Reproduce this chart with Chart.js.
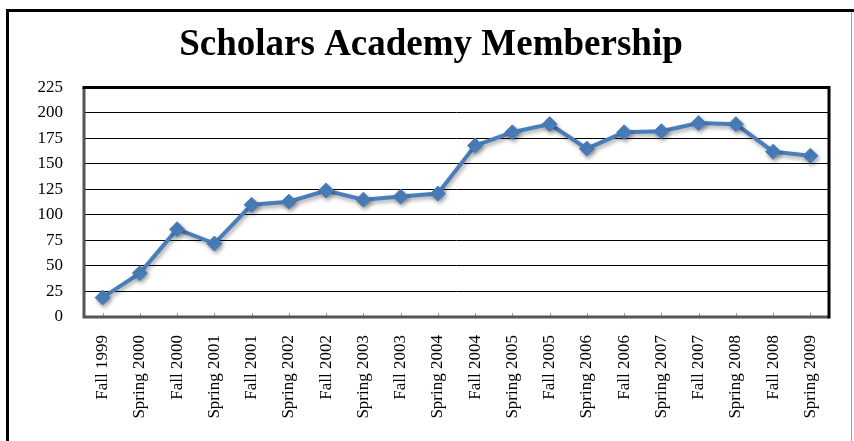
<!DOCTYPE html>
<html>
<head>
<meta charset="utf-8">
<script src="https://cdn.jsdelivr.net/npm/chart.js@4"></script>
<style>
  html, body { margin: 0; padding: 0; background: #fff; overflow: hidden; }
  #wrap { position: relative; width: 854px; height: 441px; }
  #c { position: absolute; left: 0; top: 0; }
  #frame { position: absolute; left: 6px; top: 9px; width: 860px; height: 440px;
           border-top: 3px solid #000; border-left: 3px solid #000; pointer-events: none; }
  #edge { position: absolute; left: 851px; top: 12px; width: 1px; height: 429px; background: #a0a0a0; }
</style>
</head>
<body>
<div id="wrap">
  <canvas id="c" width="854" height="441"></canvas>
  <div id="frame"></div>
  <div id="edge"></div>
</div>
<script>
const categories = [
  "Fall 1999", "Spring 2000", "Fall 2000", "Spring 2001", "Fall 2001",
  "Spring 2002", "Fall 2002", "Spring 2003", "Fall 2003", "Spring 2004",
  "Fall 2004", "Spring 2005", "Fall 2005", "Spring 2006", "Fall 2006",
  "Spring 2007", "Fall 2007", "Spring 2008", "Fall 2008", "Spring 2009"
];
const membership = [
  19, 43, 86, 72, 110,
  113, 124, 115, 118, 121,
  168, 181, 189, 165, 181,
  182, 190, 189, 162, 158
];
const yMin = 0;
const yMax = 225;
const yStep = 25;
const titleText = "Scholars Academy Membership";

const plotDecor = {
  id: 'plotDecor',
  beforeDatasetsDraw(chart) {
    const ctx = chart.ctx;
    const a = chart.chartArea;
    const xs = chart.scales.x;
    ctx.save();
    ctx.strokeStyle = '#9a9a9a';
    ctx.lineWidth = 1;
    xs.ticks.forEach((t, i) => {
      const px = Math.round(xs.getPixelForTick(i)) + 0.5;
      ctx.beginPath();
      ctx.moveTo(px, a.bottom - 4);
      ctx.lineTo(px, a.bottom - 1);
      ctx.stroke();
    });
    ctx.lineWidth = 3;
    ctx.strokeStyle = '#555';
    ctx.beginPath();
    ctx.moveTo(a.left, a.top);
    ctx.lineTo(a.left, a.bottom);
    ctx.lineTo(a.right, a.bottom);
    ctx.stroke();
    ctx.strokeStyle = '#000';
    ctx.beginPath();
    ctx.moveTo(a.left - 1.5, a.top);
    ctx.lineTo(a.right, a.top);
    ctx.lineTo(a.right, a.bottom + 1.5);
    ctx.stroke();
    ctx.restore();
    ctx.save();
    ctx.shadowColor = 'rgba(0,0,0,0.35)';
    ctx.shadowBlur = 4;
    ctx.shadowOffsetX = 1.5;
    ctx.shadowOffsetY = 2.5;
  },
  afterDatasetsDraw(chart) {
    chart.ctx.restore();
  }
};

new Chart(document.getElementById('c'), {
  type: 'line',
  data: {
    labels: categories,
    datasets: [{
      label: 'Membership',
      data: membership,
      borderColor: '#4A7EBB',
      backgroundColor: '#4A7EBB',
      borderWidth: 4,
      pointStyle: 'rectRot',
      pointRadius: 7.5,
      pointBorderWidth: 1,
      pointBackgroundColor: '#4A7EBB',
      pointBorderColor: '#4A7EBB',
      tension: 0,
      clip: false
    }]
  },
  options: {
    responsive: false,
    animation: false,
    devicePixelRatio: 1,
    layout: { padding: { left: 33, right: 25, top: 0, bottom: 0 } },
    plugins: {
      legend: { display: false },
      tooltip: { enabled: false },
      title: {
        display: true,
        text: titleText,
        color: '#000',
        font: { family: "'Liberation Serif', 'Times New Roman', serif", size: 37, weight: 'bold', lineHeight: 1.2 },
        padding: { top: 23, bottom: 20 }
      }
    },
    scales: {
      x: {
        offset: true,
        grid: { display: false, drawTicks: false },
        border: { display: false },
        ticks: {
          autoSkip: false,
          minRotation: 90,
          maxRotation: 90,
          padding: 18,
          color: '#000',
          font: { family: "'Liberation Serif', 'Times New Roman', serif", size: 17 }
        },
        afterFit(scale) { scale.height = 124; }
      },
      y: {
        min: yMin,
        max: yMax,
        grid: { color: '#000', lineWidth: 1, drawTicks: false },
        border: { display: false },
        ticks: {
          stepSize: yStep,
          padding: 21,
          color: '#000',
          font: { family: "'Liberation Serif', 'Times New Roman', serif", size: 17 }
        },
        afterFit(scale) { scale.width = 51; }
      }
    }
  },
  plugins: [plotDecor]
});
</script>
</body>
</html>
